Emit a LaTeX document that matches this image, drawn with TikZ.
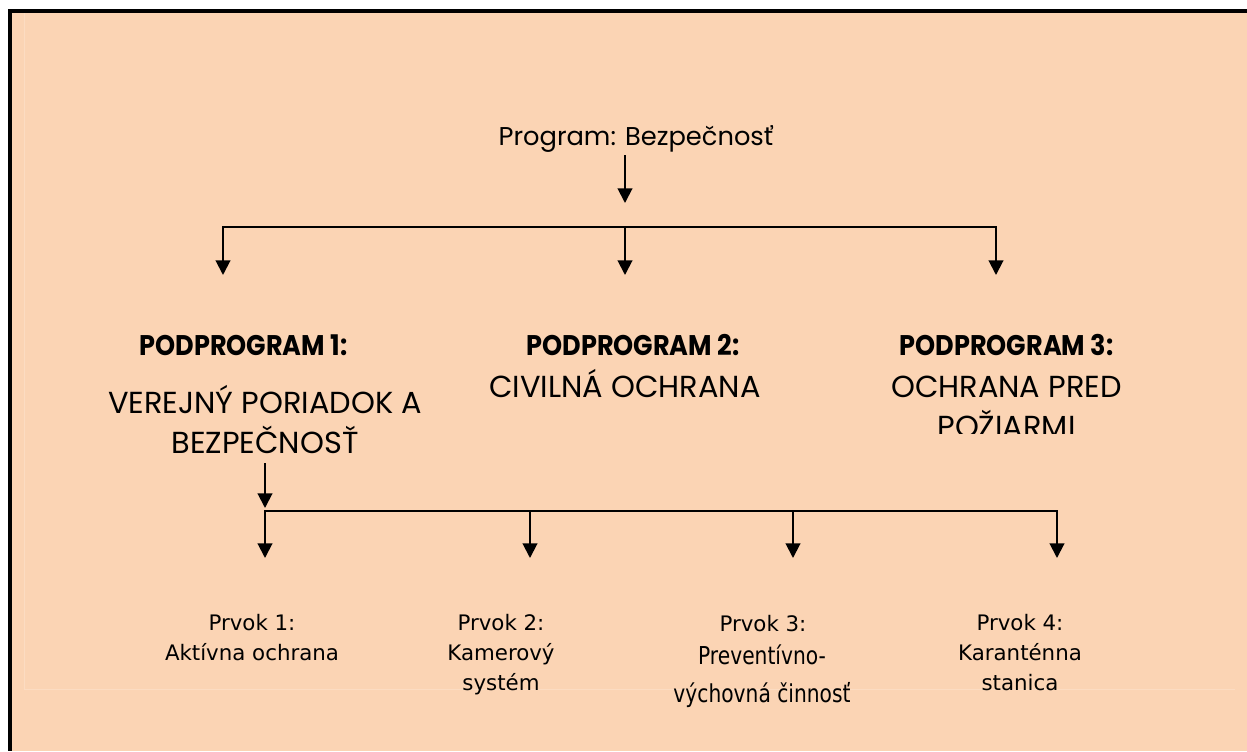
\documentclass[tikz,border=0pt]{standalone}
\usepackage{fontspec}
\usetikzlibrary{arrows.meta}
\newfontfamily\geofont{Poppins}
\newfontfamily\geoheadfont[FakeStretch=0.9]{Poppins}
\newfontfamily\verdfont{DejaVu Sans}
\newfontfamily\tahfont[FakeStretch=0.82]{DejaVu Sans}
\definecolor{peach}{HTML}{FBD4B4}
\definecolor{peachlight}{HTML}{FCDCC2}

\begin{document}
\begin{tikzpicture}[x=0.75pt,y=-0.75pt,
  % multi-line labels are placed by the baseline of their last line
  lbl/.style={inner sep=0pt, anchor=base, align=center},
  progtext/.style={lbl, font=\geofont\fontsize{19.3}{24}\selectfont},
  pphead/.style={lbl, font=\geoheadfont\bfseries\fontsize{21.3}{26}\selectfont},
  ppsub/.style={lbl, font=\geofont\fontsize{22.8}{30}\selectfont},
  prvok/.style={lbl, font=\verdfont\fontsize{16}{22.2}\selectfont},
  prvokbig/.style={lbl, font=\tahfont\fontsize{18.5}{28.5}\selectfont},
  link/.style={line width=1.5pt, -{Triangle[length=11pt,width=11pt]}},
  fork/.style={line width=1.5pt, {Triangle[length=11pt,width=11pt]}-{Triangle[length=11pt,width=11pt]}}
]
\useasboundingbox (0,0) rectangle (1247,751);

% page background and frame
\fill[white] (0,0) rectangle (1247,751);
\fill[peach] (12,13) rectangle (1247,751);
\fill[black] (8,9) rectangle (1247,13);
\fill[black] (8,9) rectangle (12,751);
\draw[peachlight, line width=0.75pt] (24,13) -- (24,689) -- (1235,689);

% program
\node[progtext] (prog) at (636,145) {Program: Bezpečnosť};

% subprograms
\node[pphead] (pp1) at (243.5,355) {PODPROGRAM 1:};
\node[pphead] (pp2) at (633,355) {PODPROGRAM 2:};
\node[pphead] (pp3) at (1006.5,355) {PODPROGRAM 3:};
\node[ppsub] (sub1) at (265,453) {VEREJNÝ PORIADOK A\\BEZPEČNOSŤ};
\node[ppsub] (sub2) at (625,397) {CIVILNÁ OCHRANA};
\begin{scope}
  \clip (850,370) rectangle (1180,433);
  \node[ppsub] (sub3) at (1006.5,437) {OCHRANA PRED\\POŽIARMI};
\end{scope}

% elements
\node[prvok] (el1) at (252,660) {Prvok 1:\\Aktívna ochrana};
\node[prvok] (el2) at (501,690) {Prvok 2:\\Kamerový\\systém};
\node[prvok] (el3) at (763,631) {Prvok 3:};
\node[prvokbig] (el3b) at (762,702) {Preventívno-\\výchovná činnosť};
\node[prvok] (el4) at (1020,690) {Prvok 4:\\Karanténna\\stanica};

% connector points, upper level
\coordinate (progout) at (625,155);
\coordinate (progtip) at (625,203);
\coordinate (bar2) at (625,227);
\coordinate (t1) at (223,275);
\coordinate (t2) at (625,275);
\coordinate (t3) at (996,275);

% connector points, lower level
\coordinate (subout) at (265,463);
\coordinate (subtip) at (265,508);
\coordinate (c2) at (530,511);
\coordinate (c3) at (793,511);
\coordinate (d1) at (265,558);
\coordinate (d2) at (530,558);
\coordinate (d3) at (793,558);
\coordinate (d4) at (1057,558);

\draw[link] (progout) -- (progtip);
\draw[fork] (t1) |- (bar2) -| (t3);
\draw[link] (bar2) -- (t2);

\draw[link] (subout) -- (subtip);
\draw[fork] (d1) |- (c2) -| (d4);
\draw[link] (c2) -- (d2);
\draw[link] (c3) -- (d3);
\end{tikzpicture}
\end{document}
